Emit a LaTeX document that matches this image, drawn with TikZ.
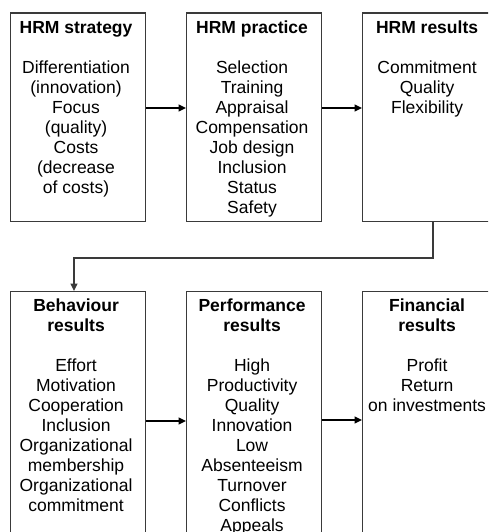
\documentclass[tikz,border=0pt]{standalone}
\usepackage{fontspec}
\setmainfont{Liberation Sans}
\usetikzlibrary{arrows.meta}
\definecolor{boxgray}{HTML}{3A3A3A}
\tikzset{
  box/.style={draw=boxgray, line width=1.1pt, minimum width=135pt, inner sep=0pt, anchor=north west},
  toprow/.style={box, minimum height=208.5pt},
  botrow/.style={box, minimum height=270pt},
  txt/.style={anchor=north, align=center, inner sep=0pt, font=\fontsize{17.5}{20}\selectfont},
  arr/.style={line width=1.5pt, black, -{Triangle[length=7.5pt,width=7pt]}},
  conn/.style={line width=1.5pt, boxgray, -{Triangle[length=7.5pt,width=7pt]}}
}
\begin{document}
\begin{tikzpicture}[x=1pt,y=1pt]
\useasboundingbox (0,0) rectangle (488,-532);
\clip (0,0) rectangle (488,-532);
\fill[white] (0,0) rectangle (488,-532);
% top row
\node[toprow] (b1) at (10,-12.5) {};
\node[toprow] (b2) at (186,-12.5) {};
\node[toprow] (b3) at (362,-12.5) {};
% bottom row
\node[botrow] (b4) at (10,-291) {};
\node[botrow] (b5) at (186,-291) {};
\node[botrow] (b6) at (362,-291) {};
% texts
\node[txt] (t1) at ([yshift=-8pt,xshift=-2pt]b1.north) {\rule{0pt}{12.5pt}\textbf{HRM strategy}\\[20pt]Differentiation\\(innovation)\\Focus\\(quality)\\Costs\\(decrease\\of costs)};
\node[txt] (t2) at ([yshift=-8pt,xshift=-2pt]b2.north) {\rule{0pt}{12.5pt}\textbf{HRM practice}\\[20pt]Selection\\Training\\Appraisal\\Compensation\\Job design\\Inclusion\\Status\\Safety};
\node[txt] (t3) at ([yshift=-8pt,xshift=-3pt]b3.north) {\rule{0pt}{12.5pt}\textbf{HRM results}\\[20pt]Commitment\\Quality\\Flexibility};
\node[txt] (t4) at ([yshift=-8pt,xshift=-2pt]b4.north) {\rule{0pt}{12.5pt}\textbf{Behaviour}\\\textbf{results}\\[20pt]Effort\\Motivation\\Cooperation\\Inclusion\\Organizational\\membership\\Organizational\\commitment};
\node[txt] (t5) at ([yshift=-8pt,xshift=-2pt]b5.north) {\rule{0pt}{12.5pt}\textbf{Performance}\\\textbf{results}\\[20pt]High\\Productivity\\Quality\\Innovation\\Low\\Absenteeism\\Turnover\\Conflicts\\Appeals};
\node[txt] (t6) at ([yshift=-8pt,xshift=-3pt]b6.north) {\rule{0pt}{12.5pt}\textbf{Financial}\\\textbf{results}\\[20pt]Profit\\Return\\on investments};
% arrows
\draw[arr] (b1.east |- 0,-108) -- (b2.west |- 0,-108);
\draw[arr] (b2.east |- 0,-108) -- (b3.west |- 0,-108);
\draw[arr] (b4.east |- 0,-421) -- (b5.west |- 0,-421);
\draw[arr] (b5.east |- 0,-420) -- (b6.west |- 0,-420);
% connector
\coordinate (c1) at (433,-258);
\coordinate (c2) at (74,-258);
\draw[conn] (b3.south -| c1) -- (c1) -- (c2) -- (b4.north -| c2);
\end{tikzpicture}
\end{document}
